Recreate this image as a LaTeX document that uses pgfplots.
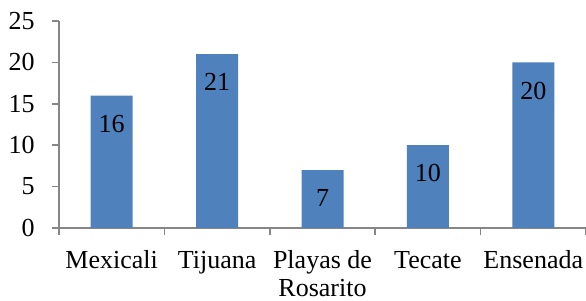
\documentclass[border=0pt]{standalone}
\usepackage{fontspec}
\setmainfont{Liberation Serif}
\usepackage{pgfplots}
\pgfplotsset{compat=1.18}
\definecolor{barblue}{HTML}{4F81BD}
\definecolor{axisgray}{HTML}{868686}
\begin{document}
\fontsize{13}{14.5}\selectfont
\begin{tikzpicture}
\begin{axis}[
  name=ax,
  scale only axis, width=263.5pt, height=103.5pt,
  ymin=0, ymax=25, ytick={0,5,...,25},
  xmin=-0.5, xmax=4.5,
  axis lines*=left,
  axis line style={draw=axisgray, line width=0.75pt},
  tick style={draw=axisgray, line width=0.75pt},
  tick align=outside, major tick length=3.5pt,
  xtick={-0.5,0.5,1.5,2.5,3.5,4.5}, xticklabels={},
  extra x ticks={0,1,2,3,4},
  extra x tick labels={\strut Mexicali,\strut Tijuana,{\strut Playas de\\Rosarito},\strut Tecate,\strut Ensenada},
  extra x tick style={major tick length=0pt, tick label style={align=center, anchor=north, inner sep=0pt, yshift=-10.5pt, font=\fontsize{13}{13.8}\selectfont}},
  yticklabel style={inner sep=0pt, xshift=-8.5pt},
  /pgf/number format/assume math mode=true,
  ybar, bar width=21pt,
  nodes near coords,
  nodes near coords style={anchor=north, inner sep=0pt, yshift=-9.5pt, text=black},
]
\addplot[ybar, fill=barblue, draw=none] coordinates {(0,16)(1,21)(2,7)(3,10)(4,20)};
\end{axis}
\pgfresetboundingbox
\path ([shift={(-29.5pt,-36.5pt)}]ax.south west) rectangle ([shift={(0pt,10.5pt)}]ax.north east);
\end{tikzpicture}
\end{document}
